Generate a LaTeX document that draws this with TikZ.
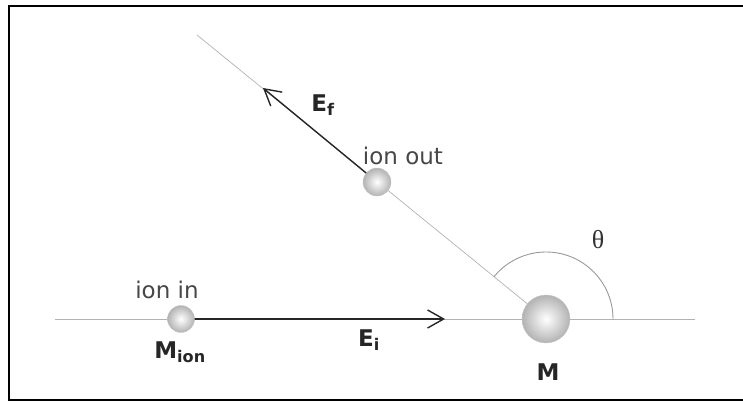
\documentclass[tikz,border=0pt]{standalone}
\usepackage{fontspec}
\setmainfont{DejaVu Sans}
\newfontfamily\thetafont{Liberation Serif}
\usetikzlibrary{arrows.meta}

\begin{document}
\begin{tikzpicture}[x=1pt,y=1pt,
  ball/.style={circle,shading=radial,inner color=white,outer color=gray!60,draw=gray!45,line width=0.4pt,inner sep=0pt},
  track/.style={gray!60,line width=0.7pt},
  beam/.style={-{Straight Barb[length=16pt,width=18pt,line width=1.4pt]},line width=1.4pt,black!85},
  lbl/.style={font=\fontsize{23}{26}\selectfont,text=black!72},
  sym/.style={font=\fontsize{23}{26}\selectfont\bfseries,text=black!85},
]
\useasboundingbox (0,0) rectangle (743,401);
% frame (right edge cut off)
\draw[line width=2pt] (743,395) -- (9,395) -- (9,1) -- (743,1);

% centres and free ends
\coordinate (pin)  at (181,82);
\coordinate (pout) at (377,219);
\coordinate (pM)   at (546,82);
\coordinate (trackL) at (55,82);
\coordinate (trackR) at (695,82);
\coordinate (far)  at (197,366);
\coordinate (tipi) at (445,82);
\coordinate (tipf) at (263,313);

% tracks
\draw[track] (trackL) -- (trackR);
\draw[track] (far) -- (pM);

% scattering angle
\draw[track,line width=0.9pt,gray!80] ([xshift=67pt]pM) arc[start angle=0,end angle=140.9,radius=67pt];

% beams
\draw[beam] (pin) -- (tipi);
\draw[beam] (pout) -- (tipf);

% particles
\node[ball,minimum size=27pt] (ionin)  at (pin)  {};
\node[ball,minimum size=28pt] (ionout) at (pout) {};
\node[ball,minimum size=48pt] (M)      at (pM)   {};

% labels
\node[lbl] (inlbl)  at (167,111) {ion in};
\node[lbl] (outlbl) at (403,245) {ion out};
\node[sym] (Mion)   at (180,49)  {M\textsubscript{ion}};
\node[sym] (Ei)     at (369,61)  {E\textsubscript{i}};
\node[sym] (Ef)     at (323,296) {E\textsubscript{f}};
\node[sym] (Mlbl)   at (548,29)  {M};
\node[font=\fontsize{26}{28}\thetafont,text=black!80] (th) at (598,161) {θ};
\end{tikzpicture}
\end{document}
